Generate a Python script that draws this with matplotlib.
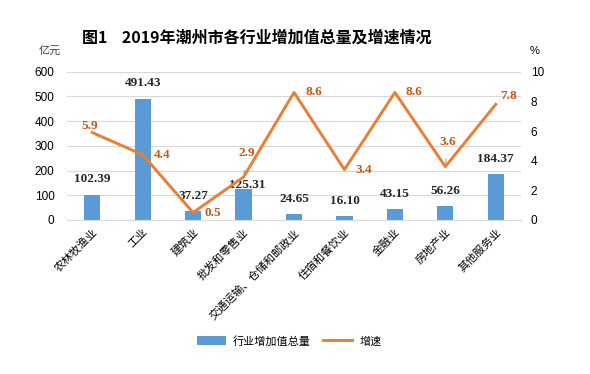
import matplotlib.pyplot as plt

plt.rcParams['font.family'] = ['Noto Sans CJK SC', 'DejaVu Sans']

cats = ['农林牧渔业', '工业', '建筑业', '批发和零售业', '交通运输、仓储和邮政业',
        '住宿和餐饮业', '金融业', '房地产业', '其他服务业']
value = [102.39, 491.43, 37.27, 125.31, 24.65, 16.10, 43.15, 56.26, 184.37]
growth = [5.9, 4.4, 0.5, 2.9, 8.6, 3.4, 8.6, 3.6, 7.8]

bar_c = '#5B9BD5'
line_c = '#ED7D31'
lab_c = '#C65911'

fig = plt.figure(figsize=(5.9, 3.74), dpi=100)
ax = fig.add_axes([67/590, 1-220/374, 454/590, 148.3/374])
ax2 = ax.twinx()

x = list(range(len(cats)))
bars = ax.bar(x, value, width=0.32, color=bar_c, zorder=2, label='行业增加值总量')
ln, = ax2.plot(x, growth, color=line_c, lw=2.1, zorder=3, label='增速')

ax.set_xlim(-0.5, len(cats)-0.5)
ax.set_ylim(0, 600)
ax2.set_ylim(0, 10)
ax.set_yticks(range(0, 601, 100))
ax2.set_yticks(range(0, 11, 2))
ax.grid(axis='y', color='#D9D9D9', lw=0.8, zorder=0)
ax.set_axisbelow(True)

for a in (ax, ax2):
    for s in a.spines.values():
        s.set_visible(False)
    a.tick_params(length=0, labelsize=8.5)
ax.spines['bottom'].set_visible(True)
ax.spines['bottom'].set_color('#D9D9D9')
ax.tick_params(axis='y', pad=9)
ax2.tick_params(axis='y', pad=7)
for t in ax.get_yticklabels() + ax2.get_yticklabels():
    t.set_family(['Liberation Sans', 'DejaVu Sans'])

ax.set_xticks(x)
ax.set_xticklabels(cats, rotation=45, ha='right', va='top', rotation_mode='anchor',
                   fontsize=8)
ax.tick_params(axis='x', pad=5)
ax2.set_zorder(ax.get_zorder()+1)
ax2.patch.set_visible(False)

serif = ['Liberation Serif', 'DejaVu Serif']
# bar labels (offsets in points)
bar_off = [(0, 11), (0, 11), (0, 11), (3, 3), (0, 11), (0, 11), (0, 11), (0, 11), (0, 11)]
for i, v in enumerate(value):
    ax.annotate(f'{v:.2f}', (i, v), xytext=bar_off[i], textcoords='offset points',
                ha='center', va='center', fontsize=9.5, fontweight='bold',
                family=serif, color='#262626', zorder=5)

line_off = [(-2, 5), (14, 0), (14, 0), (2, 17), (14, 0), (14, 0), (14, 0), (2, 18), (9, 6)]
leader = [False, False, False, True, False, False, False, True, False]
for i, g in enumerate(growth):
    ap = None
    if leader[i]:
        ap = dict(arrowstyle='-', color='#A6A6A6', lw=0.8, shrinkA=6, shrinkB=1)
    ax2.annotate(f'{g:.1f}', (i, g), xytext=line_off[i], textcoords='offset points',
                 ha='center', va='center', fontsize=9.5, fontweight='bold',
                 family=serif, color=lab_c, zorder=5, arrowprops=ap)

fig.text(257/590, 1-38/374, '图1    2019年潮州市各行业增加值总量及增速情况',
         ha='center', va='center', fontsize=11.5, fontweight='bold')
fig.text(50/590, 1-51/374, '亿元', ha='center', va='center', fontsize=8, color='#404040')
fig.text(535/590, 1-51/374, '%', ha='center', va='center', fontsize=8,
         family=['Liberation Sans'])

fig.legend([bars, ln], ['行业增加值总量', '增速'], loc='center',
           bbox_to_anchor=(289/590, 1-341/374), ncol=2, frameon=False, fontsize=8,
           handlelength=2.6, handleheight=0.8, columnspacing=1.2, handletextpad=0.6)

fig.savefig('out.png', dpi=100)
